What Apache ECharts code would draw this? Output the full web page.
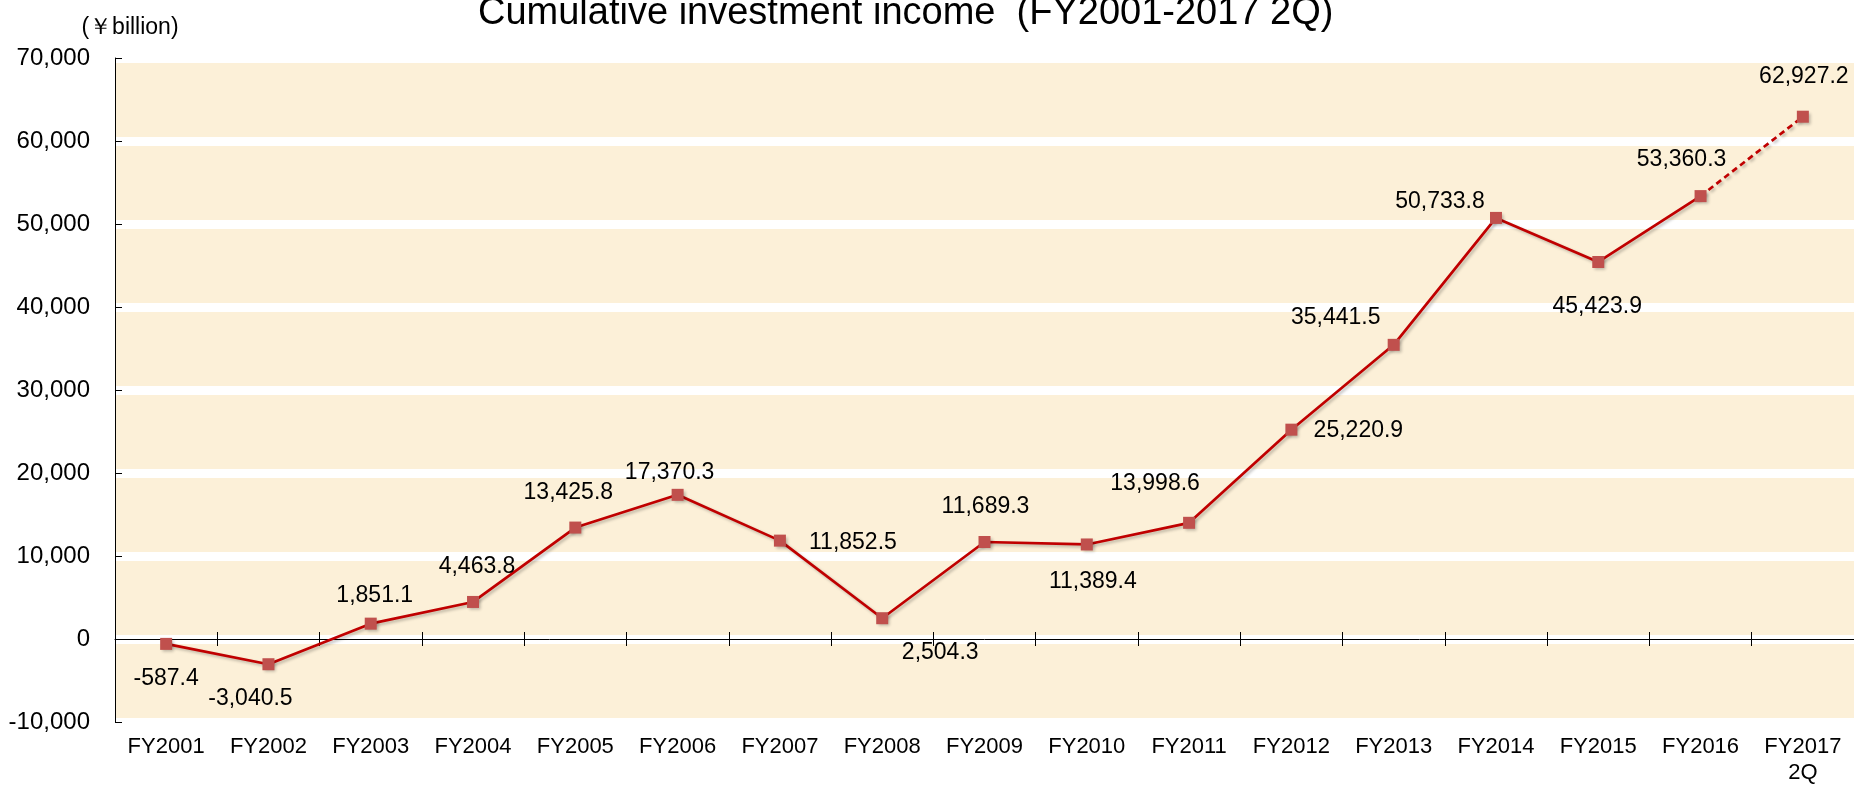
<!DOCTYPE html>
<html>
  <head>
    <meta charset="utf-8" />
    <title>Cumulative investment income</title>
    <script src="https://cdn.jsdelivr.net/npm/echarts@6/dist/echarts.min.js"></script>
    <style>
      html, body { margin: 0; padding: 0; background: #fff; }
    </style>
  </head>
  <body>
    <div id="main" style="width: 1854px;height:786px;"></div>
    <script type="text/javascript">
      // data
      var categories = ['FY2001', 'FY2002', 'FY2003', 'FY2004', 'FY2005', 'FY2006', 'FY2007', 'FY2008', 'FY2009',
        'FY2010', 'FY2011', 'FY2012', 'FY2013', 'FY2014', 'FY2015', 'FY2016', 'FY2017\n2Q'];
      var income = [-587.4, -3040.5, 1851.1, 4463.8, 13425.8, 17370.3, 11852.5, 2504.3, 11689.3,
        11389.4, 13998.6, 25220.9, 35441.5, 50733.8, 45423.9, 53360.3, 62927.2];
      var yTicks = [-10000, 0, 10000, 20000, 30000, 40000, 50000, 60000, 70000];

      // where each value label sits, relative to its marker (px)
      var labelOffsets = [[0, 35], [-18, 34], [4, -28], [4, -35], [-7, -35], [-8, -22], [73, 2], [58, 34], [1, -35],
        [6, 37], [-34, -39], [67, 1], [-58, -27], [-56, -16], [-1, 45], [-19, -36], [1, -40]];

      var lastIdx = income.length - 1;
      var font = '"Liberation Sans", Arial, sans-serif';

      function fmt(v) {
        return v.toLocaleString('en-US', { minimumFractionDigits: 1, maximumFractionDigits: 1 });
      }

      function point(v, i) {
        return {
          value: v,
          label: { offset: labelOffsets[i] }
        };
      }

      // solid part: FY2001..FY2016
      var solidData = income.map(function (v, i) {
        return i < lastIdx ? point(v, i) : '-';
      });
      // dashed part: FY2016 -> FY2017 2Q
      var dashData = income.map(function (v, i) {
        if (i === lastIdx) return point(v, i);
        if (i === lastIdx - 1) return { value: v, symbol: 'none', label: { show: false } };
        return '-';
      });

      var myChart = echarts.init(document.getElementById('main'));

      var lineColor = '#c00000';
      var markColor = '#c0504d';

      var seriesBase = {
        type: 'line',
        symbol: 'rect',
        symbolSize: 12,
        showAllSymbol: true,
        connectNulls: false,
        itemStyle: {
          color: markColor,
          shadowColor: 'rgba(0,0,0,0.25)',
          shadowBlur: 3,
          shadowOffsetX: 2,
          shadowOffsetY: 2
        },
        label: {
          show: true,
          position: 'inside',
          color: '#000',
          fontSize: 23,
          fontFamily: font,
          formatter: function (p) { return fmt(p.value); }
        }
      };

      option = {
        animation: false,
        backgroundColor: '#fff',
        title: {
          text: 'Cumulative investment income  (FY2001-2017 2Q)',
          left: 473,
          top: -10,
          textStyle: { fontSize: 38, fontWeight: 'normal', color: '#000', fontFamily: font }
        },
        grid: {
          left: 115,
          right: 0,
          top: 58,
          bottom: 61,
          show: true,
          backgroundColor: '#fcf0d8',
          borderWidth: 0
        },
        xAxis: [
          { // labels along the bottom of the plot
            type: 'category',
            data: categories,
            position: 'bottom',
            axisLine: { show: false, onZero: false },
            axisTick: { show: false },
            axisLabel: { interval: 0, fontSize: 22, lineHeight: 26, margin: 12, color: '#000', fontFamily: font }
          },
          { // zero line, ticks downward
            type: 'category',
            data: categories,
            position: 'bottom',
            axisLine: { onZero: true, onZeroAxisIndex: 0, lineStyle: { color: '#000', width: 1 } },
            axisTick: { show: true, length: 7, lineStyle: { color: '#000' } },
            axisLabel: { show: false }
          },
          { // ticks upward so they cross the zero line
            type: 'category',
            data: categories,
            position: 'top',
            axisLine: { show: false, onZero: true, onZeroAxisIndex: 0 },
            axisTick: { show: true, length: 7, lineStyle: { color: '#000' } },
            axisLabel: { show: false }
          }
        ],
        yAxis: {
          type: 'value',
          min: yTicks[0],
          max: yTicks[yTicks.length - 1],
          interval: 10000,
          name: '(￥billion)',
          nameLocation: 'end',
          nameGap: 19,
          nameTextStyle: { fontSize: 23, color: '#000', fontFamily: font, align: 'center', padding: [0, 0, 0, 30] },
          axisLine: { show: true, onZero: false, lineStyle: { color: '#000', width: 1 } },
          axisTick: { show: true, inside: true, length: 7, lineStyle: { color: '#000' } },
          axisLabel: {
            fontSize: 24,
            margin: 25,
            color: '#000',
            fontFamily: font,
            formatter: function (v) { return v.toLocaleString('en-US'); }
          },
          splitLine: { show: true, lineStyle: { color: '#fff', width: 9 } }
        },
        series: [
          echarts.util.merge({
            name: 'solid',
            z: 3,
            data: solidData,
            lineStyle: {
              color: lineColor,
              width: 2.7,
              shadowColor: 'rgba(0,0,0,0.25)',
              shadowBlur: 3,
              shadowOffsetX: 2,
              shadowOffsetY: 2
            }
          }, seriesBase),
          echarts.util.merge({
            name: 'forecast',
            z: 2,
            data: dashData,
            lineStyle: {
              color: lineColor,
              width: 2.7,
              type: [6, 4],
              shadowColor: 'rgba(0,0,0,0.25)',
              shadowBlur: 3,
              shadowOffsetX: 2,
              shadowOffsetY: 2
            }
          }, seriesBase)
        ]
      };

      myChart.setOption(option);
    </script>
  </body>
</html>
